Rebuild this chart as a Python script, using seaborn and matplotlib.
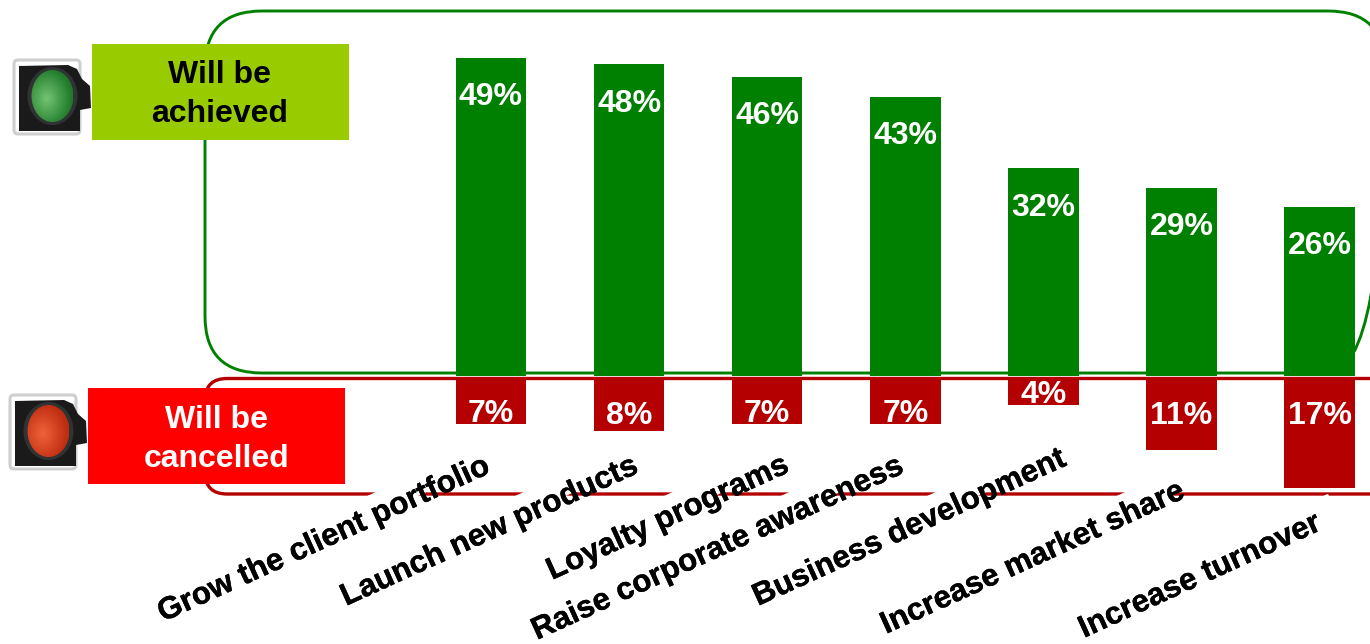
import numpy as np
import pandas as pd
import matplotlib
matplotlib.use("Agg")
import matplotlib.pyplot as plt
import matplotlib.patheffects as pe
from matplotlib.colors import to_rgb
from matplotlib.patches import FancyBboxPatch, Rectangle, Ellipse, Polygon
from matplotlib.textpath import TextPath
from matplotlib.font_manager import FontProperties
import seaborn as sns

# Survey results
categories = ["Grow the client portfolio", "Launch new products", "Loyalty programs",
              "Raise corporate awareness", "Business development",
              "Increase market share", "Increase turnover"]
achieved_pct = [49, 48, 46, 43, 32, 29, 26]
cancelled_pct = [7, 8, 7, 7, 4, 11, 17]
achieved_title = "Will be\nachieved"
cancelled_title = "Will be\ncancelled"

# Baseline start of every slanted category label, in pixels
label_starts = [(163, 622), (346, 606), (552, 580), (537, 640),
                (758, 606), (886, 634), (1084, 638)]

W, H = 1370, 644
DPI = 100
GREEN, DARK_RED = "#008000", "#B40000"
LIME, RED = "#99CC00", "#FF0000"
ANGLE = 24.5
FONT = 23.0
LABEL_FONT = 22.5

sns.set_theme(style="white")
plt.rcParams["font.family"] = ["Liberation Sans", "DejaVu Sans"]

fig = plt.figure(figsize=(W / DPI, H / DPI), dpi=DPI, facecolor="white")


def pixel_axes(zorder):
    ax = fig.add_axes([0, 0, 1, 1], zorder=zorder)
    ax.set_xlim(0, W)
    ax.set_ylim(H, 0)
    ax.axis("off")
    ax.patch.set_alpha(0)
    return ax


def band_axes(y_top, y_bottom):
    ax = fig.add_axes([0, 1 - y_bottom / H, 1, (y_bottom - y_top) / H], zorder=2)
    ax.patch.set_alpha(0)
    return ax


def finish_band(ax, ylim):
    ax.set_xlim(-491 / 138.1, (W - 491) / 138.1)
    ax.set_ylim(*ylim)
    ax.axis("off")


heavy_black = [pe.withStroke(linewidth=0.3, foreground="black")]

back = pixel_axes(1)
front = pixel_axes(3)

# Rounded frames behind the two bar groups
back.add_patch(FancyBboxPatch((205, 11), 1180, 362, boxstyle="round,pad=0,rounding_size=57",
                              fc="none", ec=GREEN, lw=2.1))
back.add_patch(FancyBboxPatch((205, 378.5), 1200, 115.5, boxstyle="round,pad=0,rounding_size=22",
                              fc="none", ec=DARK_RED, lw=2.4))

# Achieved bars grow upward from the shared baseline
PX_UP = 6.5
top = band_axes(0, 376)
sns.barplot(x=categories, y=achieved_pct, color=GREEN, saturation=1, width=0.51,
            linewidth=0, ax=top)
finish_band(top, (0, 376 / PX_UP))
for i, v in enumerate(achieved_pct):
    top.annotate(f"{v}%", (i, v), xytext=(0, -39.5 * 72 / DPI), textcoords="offset points",
                 ha="center", va="center", color="white", fontsize=FONT, fontweight="bold")

# Cancelled bars hang downward just under it
PX_DOWN = 6.35
bottom = band_axes(380, H)
sns.barplot(x=categories, y=cancelled_pct, color=DARK_RED, saturation=1, width=0.51,
            linewidth=0, ax=bottom)
finish_band(bottom, ((H - 380) / PX_DOWN, 0))
for i, v in enumerate(cancelled_pct):
    drop = min(36, v * PX_DOWN - 10)
    bottom.annotate(f"{v}%", (i, 0), xytext=(0, -drop * 72 / DPI), textcoords="offset points",
                    ha="center", va="center", color="white", fontsize=FONT, fontweight="bold")

# Slanted category labels, each on a narrow white strip that interrupts the frame
prop = FontProperties(family="Liberation Sans", weight="bold")
theta = np.radians(ANGLE)
along = np.array([np.cos(theta), -np.sin(theta)])
up = np.array([-np.sin(theta), -np.cos(theta)])
size_px = LABEL_FONT * DPI / 72
for name, start in zip(categories, label_starts):
    length = TextPath((0, 0), name, size=size_px, prop=prop).get_extents().x1
    p0 = np.array(start, dtype=float)
    end = p0 + along * (length + 20)
    strip = [p0 + up * 9, end + up * 9, end + up * 30, p0 + up * 30]
    front.add_patch(Polygon(strip, closed=True, fc="white", ec="none", zorder=1))
for name, start in zip(categories, label_starts):
    front.text(start[0], start[1], name, rotation=ANGLE, rotation_mode="anchor",
               ha="left", va="baseline", fontsize=LABEL_FONT, fontweight="bold",
               color="black", zorder=2, path_effects=heavy_black)

# Heading boxes
front.add_patch(Rectangle((92, 44), 257, 96, fc=LIME, ec="none", zorder=3))
front.add_patch(Rectangle((88, 388), 257, 96, fc=RED, ec="none", zorder=3))
front.text(220, 94.5, achieved_title, ha="center", va="center", multialignment="center",
           fontsize=FONT, fontweight="bold", color="black", linespacing=1.36, zorder=4)
front.text(216.5, 439.5, cancelled_title, ha="center", va="center", multialignment="center",
           fontsize=FONT, fontweight="bold", color="white", linespacing=1.36, zorder=4)


def traffic_light(ax, dx, dy, inner, outer):
    """Dark signal housing with a shaded round lens."""
    ax.add_patch(FancyBboxPatch((14 + dx, 60 + dy), 66, 74, boxstyle="round,pad=0,rounding_size=4",
                                fc="white", ec="#CFCFCF", lw=2.2, zorder=3))
    housing = [(19, 66), (68, 65), (77, 69), (82, 79), (90, 86), (91, 108),
               (80, 110), (80, 131), (19, 131)]
    ax.add_patch(Polygon([(x + dx, y + dy) for x, y in housing], closed=True,
                         fc="#1A1A1A", ec="none", zorder=3))
    cx, cy = 52.5 + dx, 96 + dy
    ax.add_patch(Ellipse((cx, cy), 50, 58, fc="#303333", ec="none", zorder=3))
    yy, xx = np.mgrid[-1:1:80j, -1:1:80j]
    dist = np.clip(np.hypot(xx + 0.25, yy - 0.1) / 1.2, 0, 1)[..., None]
    shade = np.array(to_rgb(inner)) * (1 - dist) + np.array(to_rgb(outer)) * dist
    img = ax.imshow(shade, extent=(cx - 21, cx + 21, cy + 26, cy - 26), zorder=3.5,
                    interpolation="bilinear", aspect="auto")
    img.set_clip_path(Ellipse((cx, cy), 42, 52, transform=ax.transData))


traffic_light(front, 0, 0, "#72C472", "#1F7A2A")
traffic_light(front, -4, 335, "#F0623A", "#BE2C10")
front.set_xlim(0, W)
front.set_ylim(H, 0)

fig.savefig("out.png", dpi=DPI, facecolor="white")
